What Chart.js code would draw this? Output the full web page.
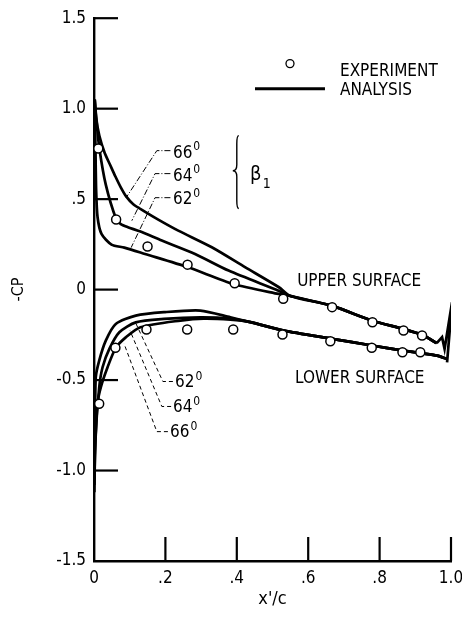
<!DOCTYPE html>
<html>
<head>
<meta charset="utf-8">
<script src="https://cdn.jsdelivr.net/npm/chart.js@4.4.1/dist/chart.umd.min.js"></script>
<style>
  html, body { margin: 0; padding: 0; background: #fff; }
  #wrap { width: 462px; height: 618px; }
</style>
</head>
<body>
<div id="wrap"><canvas id="cpChart" width="462" height="618"></canvas></div>
<script>
// axis ticks
const xTicks = [0, 0.2, 0.4, 0.6, 0.8, 1.0];
const xTickLabels = ['0', '.2', '.4', '.6', '.8', '1.0'];
const yTicks = [-1.5, -1.0, -0.5, 0, 0.5, 1.0, 1.5];
const yTickLabels = ['-1.5', '-1.0', '-0.5', '0', '.5', '1.0', '1.5'];

// experiment
const expUpperX = [0.012, 0.062, 0.150, 0.262, 0.394, 0.530, 0.667, 0.780, 0.867, 0.919];
const expUpperY = [0.78, 0.387, 0.238, 0.138, 0.035, -0.051, -0.097, -0.18, -0.226, -0.254];
const expLowerX = [0.0145, 0.060, 0.147, 0.261, 0.390, 0.528, 0.662, 0.778, 0.864, 0.914];
const expLowerY = [-0.631, -0.322, -0.221, -0.221, -0.221, -0.248, -0.285, -0.321, -0.346, -0.346];

// analysis, upper surface, one curve per inlet angle beta1
const up66X = [0.002, 0.006, 0.015, 0.03, 0.045, 0.06, 0.075, 0.09, 0.11, 0.14, 0.18, 0.236, 0.33, 0.424, 0.518];
const up66Y = [1.05, 0.95, 0.85, 0.755, 0.69, 0.625, 0.565, 0.515, 0.472, 0.434, 0.387, 0.326, 0.234, 0.123, 0.013];
const up64X = [0.002, 0.008, 0.015, 0.033, 0.062, 0.075, 0.095, 0.128, 0.19, 0.283, 0.377, 0.517];
const up64Y = [1.05, 0.91, 0.78, 0.58, 0.39, 0.362, 0.345, 0.322, 0.271, 0.197, 0.105, -0.006];
const up62X = [0.002, 0.004, 0.006, 0.010, 0.021, 0.049, 0.085, 0.143, 0.264, 0.39, 0.517];
const up62Y = [1.05, 0.8, 0.55, 0.40, 0.308, 0.249, 0.232, 0.197, 0.123, 0.031, -0.024];
// the three upper curves collapse onto one line aft of mid-chord
const upTailX = [0.55, 0.667, 0.78, 0.867, 0.919, 0.96];
const upTailY = [-0.035, -0.09, -0.172, -0.218, -0.25, -0.296];
// trailing edge wiggle
const teX = [0.96, 0.975, 0.982, 1.003, 0.989];
const teY = [-0.296, -0.263, -0.328, -0.07, -0.402];

// analysis, lower surface
const lo62X = [0.001, 0.003, 0.005, 0.0146, 0.033, 0.061, 0.117, 0.196, 0.298, 0.382];
const lo62Y = [-1.05, -0.75, -0.484, -0.392, -0.282, -0.19, -0.144, -0.125, -0.116, -0.153];
const lo64X = [0.001, 0.004, 0.0146, 0.024, 0.043, 0.071, 0.117, 0.196, 0.298, 0.382];
const lo64Y = [-1.08, -0.82, -0.54, -0.429, -0.328, -0.236, -0.181, -0.162, -0.153, -0.16];
const lo66X = [0.001, 0.003, 0.0098, 0.019, 0.038, 0.061, 0.089, 0.13, 0.242, 0.307, 0.382];
const lo66Y = [-1.12, -0.9, -0.631, -0.54, -0.429, -0.322, -0.264, -0.208, -0.171, -0.16, -0.166];
const loTailX = [0.438, 0.532, 0.667, 0.779, 0.866, 0.917, 0.961, 0.989];
const loTailY = [-0.18, -0.227, -0.272, -0.309, -0.337, -0.352, -0.365, -0.383];

const FONT = '"DejaVu Sans Condensed", "Liberation Sans Narrow", "DejaVu Sans", sans-serif';

const pts = (xs, ys) => xs.map((x, i) => ({ x, y: ys[i] }));

const curve = (label, xs, ys, tension = 0.25) => ({
  label,
  data: pts(xs, ys),
  showLine: true,
  borderColor: '#000',
  borderWidth: 2.7,
  pointRadius: 0,
  tension,
  order: 2,
});

const circles = (label, xs, ys) => ({
  label,
  data: pts(xs, ys),
  showLine: false,
  pointRadius: 4.5,
  pointBackgroundColor: '#fff',
  pointBorderColor: '#000',
  pointBorderWidth: 1.5,
  order: 0,
});

// ticks, legend, angle callouts and surface labels
const paperMarks = {
  id: 'paperMarks',
  afterDatasetsDraw(chart) {
    const { ctx, scales: { x, y } } = chart;
    const px = v => x.getPixelForValue(v);
    const py = v => y.getPixelForValue(v);
    const seg = (a) => {
      ctx.beginPath();
      ctx.moveTo(px(a[0][0]), py(a[0][1]));
      a.slice(1).forEach(p => ctx.lineTo(px(p[0]), py(p[1])));
      ctx.stroke();
    };
    ctx.save();
    ctx.strokeStyle = '#000';
    ctx.fillStyle = '#000';

    // inward ticks
    ctx.lineWidth = 2.2;
    yTicks.forEach(v => {
      if (v <= -1.5) return;
      ctx.beginPath();
      ctx.moveTo(px(0), py(v));
      ctx.lineTo(px(0) + 24, py(v));
      ctx.stroke();
    });
    xTicks.forEach(v => {
      if (v <= 0) return;
      ctx.beginPath();
      ctx.moveTo(px(v), py(-1.5));
      ctx.lineTo(px(v), py(-1.5) - 24);
      ctx.stroke();
    });

    // key
    ctx.lineWidth = 1.3;
    ctx.beginPath();
    ctx.arc(px(0.549), py(1.249), 4, 0, Math.PI * 2);
    ctx.stroke();
    ctx.lineWidth = 2.8;
    seg([[0.451, 1.11], [0.647, 1.11]]);
    ctx.font = '17px ' + FONT;
    ctx.textBaseline = 'middle';
    ctx.textAlign = 'left';
    ctx.fillText('EXPERIMENT', px(0.689), py(1.204));
    ctx.fillText('ANALYSIS', px(0.689), py(1.099));

    // surface labels
    ctx.fillText('UPPER SURFACE', px(0.569), py(0.044));
    ctx.fillText('LOWER SURFACE', px(0.563), py(-0.492));

    // angle callouts
    const angle = (txt, ax, ay) => {
      ctx.font = '17px ' + FONT;
      ctx.fillText(txt, px(ax), py(ay));
      const w = ctx.measureText(txt).width;
      ctx.font = '12px ' + FONT;
      ctx.fillText('0', px(ax) + w + 1, py(ay) - 6);
    };
    angle('66', 0.221, 0.754);
    angle('64', 0.221, 0.626);
    angle('62', 0.221, 0.497);
    angle('62', 0.227, -0.514);
    angle('64', 0.221, -0.652);
    angle('66', 0.213, -0.79);

    ctx.lineWidth = 1;
    ctx.setLineDash([6, 2, 1, 2]);
    seg([[0.214, 0.768], [0.176, 0.768], [0.09, 0.508]]);
    seg([[0.214, 0.641], [0.171, 0.641], [0.106, 0.381]]);
    seg([[0.214, 0.508], [0.171, 0.508], [0.104, 0.232]]);
    ctx.setLineDash([4, 3]);
    seg([[0.221, -0.508], [0.193, -0.508], [0.115, -0.177]]);
    seg([[0.216, -0.646], [0.19, -0.646], [0.101, -0.227]]);
    seg([[0.207, -0.785], [0.176, -0.785], [0.084, -0.298]]);
    ctx.setLineDash([]);

    // brace and beta1
    const bx = px(0.40), top = py(0.851), bot = py(0.448), mid = py(0.657);
    ctx.lineWidth = 1.4;
    ctx.beginPath();
    ctx.moveTo(bx + 2, top);
    ctx.quadraticCurveTo(bx, top, bx, top + 8);
    ctx.lineTo(bx, mid - 6);
    ctx.quadraticCurveTo(bx, mid, bx - 4, mid);
    ctx.quadraticCurveTo(bx, mid, bx, mid + 6);
    ctx.lineTo(bx, bot - 8);
    ctx.quadraticCurveTo(bx, bot, bx + 2, bot);
    ctx.stroke();
    ctx.font = '20px ' + FONT;
    ctx.fillText('\u03b2', px(0.437), py(0.635));
    ctx.font = '14px ' + FONT;
    ctx.fillText('1', px(0.473), py(0.58));

    ctx.restore();
  },
};

new Chart(document.getElementById('cpChart'), {
  type: 'scatter',
  data: {
    datasets: [
      circles('EXPERIMENT upper', expUpperX, expUpperY),
      circles('EXPERIMENT lower', expLowerX, expLowerY),
      curve('66 upper', up66X.concat(upTailX), up66Y.concat(upTailY)),
      curve('64 upper', up64X.concat(upTailX), up64Y.concat(upTailY)),
      curve('62 upper', up62X.concat(upTailX), up62Y.concat(upTailY)),
      curve('trailing edge', teX, teY, 0),
      curve('62 lower', lo62X.concat(loTailX), lo62Y.concat(loTailY)),
      curve('64 lower', lo64X.concat(loTailX), lo64Y.concat(loTailY)),
      curve('66 lower', lo66X.concat(loTailX), lo66Y.concat(loTailY)),
    ],
  },
  options: {
    responsive: false,
    animation: false,
    layout: { padding: { top: 17, right: 0, left: 0, bottom: 0 } },
    plugins: {
      legend: { display: false },
      tooltip: { enabled: false },
    },
    scales: {
      x: {
        type: 'linear',
        min: 0,
        max: 1,
        afterBuildTicks: s => { s.ticks = xTicks.map(v => ({ value: v })); },
        afterFit: s => {
          s.height = 57;
          s.paddingLeft = 0;
          s.paddingRight = 11;
        },
        grid: { drawOnChartArea: false, drawTicks: false },
        border: { display: true, color: '#000', width: 2.4 },
        ticks: {
          color: '#000',
          padding: 7,
          maxRotation: 0,
          font: { family: FONT, size: 17 },
          callback: v => xTickLabels[xTicks.indexOf(v)],
        },
        title: {
          display: true,
          text: "x'/c",
          color: '#000',
          font: { family: FONT, size: 18 },
          padding: { top: 0, bottom: 8 },
        },
      },
      y: {
        type: 'linear',
        min: -1.5,
        max: 1.5,
        afterBuildTicks: s => { s.ticks = yTicks.map(v => ({ value: v })); },
        afterFit: s => { s.width = 94; },
        grid: { drawOnChartArea: false, drawTicks: false },
        border: { display: true, color: '#000', width: 2.4 },
        ticks: {
          color: '#000',
          padding: 8,
          font: { family: FONT, size: 17 },
          callback: v => yTickLabels[yTicks.indexOf(v)],
        },
        title: {
          display: true,
          text: '-CP',
          color: '#000',
          font: { family: FONT, size: 16 },
          padding: { top: 9, bottom: 0 },
        },
      },
    },
  },
  plugins: [paperMarks],
});
</script>
</body>
</html>
